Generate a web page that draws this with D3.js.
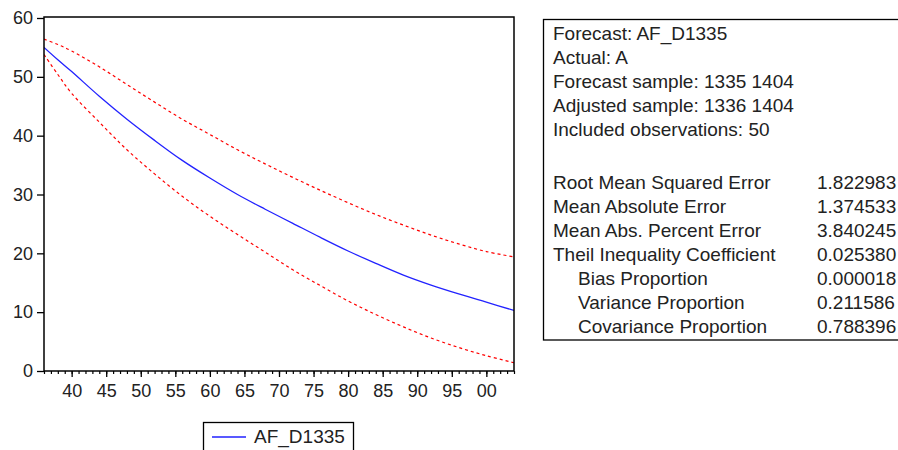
<!DOCTYPE html>
<html>
<head>
<meta charset="utf-8">
<script src="https://cdn.jsdelivr.net/npm/d3@7/dist/d3.min.js"></script>
<style>
  html, body { margin: 0; padding: 0; background: #fff; }
  svg { display: block; }
  text { font-family: Arial, "Liberation Sans", sans-serif; fill: #222; }
</style>
</head>
<body>
<svg id="chart" width="898" height="450"></svg>
<script>
// ---- data ----
const years    = [1336, 1338, 1340, 1344, 1348, 1352, 1356, 1360, 1364, 1368, 1372, 1376, 1380, 1384, 1388, 1392, 1396, 1400, 1404];
const forecast = [55.0, 52.9, 50.9, 46.7, 42.8, 39.2, 35.8, 32.8, 30.0, 27.5, 25.1, 22.7, 20.4, 18.3, 16.3, 14.6, 13.1, 11.7, 10.3];
const upper    = [56.4, 55.5, 54.4, 51.7, 48.7, 45.7, 42.8, 40.2, 37.6, 35.2, 32.9, 30.7, 28.6, 26.6, 24.8, 23.1, 21.6, 20.3, 19.4];
const lower    = [53.8, 50.4, 47.2, 42.3, 37.6, 33.5, 29.7, 26.3, 23.2, 20.2, 17.2, 14.5, 11.9, 9.6, 7.5, 5.6, 4.0, 2.6, 1.4];
const yTicks   = [0, 10, 20, 30, 40, 50, 60];
const xMajor   = [1340, 1345, 1350, 1355, 1360, 1365, 1370, 1375, 1380, 1385, 1390, 1395, 1400];
const seriesName = "AF_D1335";
const statsHeader = ["Forecast: AF_D1335", "Actual: A", "Forecast sample: 1335 1404", "Adjusted sample: 1336 1404", "Included observations: 50"];
const statLabels = ["Root Mean Squared Error", "Mean Absolute Error", "Mean Abs. Percent Error", "Theil Inequality Coefficient", "Bias Proportion", "Variance Proportion", "Covariance Proportion"];
const statValues = ["1.822983", "1.374533", "3.840245", "0.025380", "0.000018", "0.211586", "0.788396"];
const statIndent = [false, false, false, false, true, true, true];

// ---- layout ----
const svg = d3.select("#chart");
const plot = { left: 44, right: 514, top: 17, bottom: 371 };
const x = d3.scaleLinear().domain([1336, 1404]).range([plot.left, plot.right]);
const y = d3.scaleLinear().domain([0, 60]).range([371, 18]);
const FONT = "Arial, 'Liberation Sans', sans-serif";

// frame background
svg.append("rect")
  .attr("x", plot.left).attr("y", plot.top)
  .attr("width", plot.right - plot.left).attr("height", plot.bottom - plot.top)
  .attr("fill", "#fff");

// y axis
const yAxis = d3.axisLeft(y).tickValues(yTicks).tickSize(7).tickPadding(4);
const gy = svg.append("g").attr("transform", `translate(${plot.left},0)`).call(yAxis);
gy.select(".domain").remove();
gy.selectAll("line").attr("stroke", "#000").attr("stroke-width", 1.3);
gy.selectAll("text").style("font-size", "18px").attr("fill", "#222").style("font-family", FONT);

// x axis minor ticks
const minorVals = d3.range(1336, 1405);
const gxm = svg.append("g").attr("transform", `translate(0,${plot.bottom})`)
  .call(d3.axisBottom(x).tickValues(minorVals).tickSize(3).tickFormat(""));
gxm.select(".domain").remove();
gxm.selectAll("line").attr("stroke", "#000").attr("stroke-width", 1.2);

// x axis major ticks + labels
const gx = svg.append("g").attr("transform", `translate(0,${plot.bottom})`)
  .call(d3.axisBottom(x).tickValues(xMajor).tickSize(6).tickPadding(7)
    .tickFormat(d => String(d % 100).padStart(2, "0")));
gx.select(".domain").remove();
gx.selectAll("line").attr("stroke", "#000").attr("stroke-width", 1.3);
gx.selectAll("text").style("font-size", "18px").attr("fill", "#222").style("font-family", FONT);

// lines
const mk = arr => d3.line().x((d, i) => x(years[i])).y(d => y(d)).curve(d3.curveCatmullRom.alpha(0.5))(arr);
svg.append("clipPath").attr("id", "clip").append("rect")
  .attr("x", plot.left).attr("y", plot.top).attr("width", plot.right - plot.left).attr("height", plot.bottom - plot.top);
const gl = svg.append("g").attr("clip-path", "url(#clip)");
gl.append("path").attr("d", mk(upper)).attr("fill", "none").attr("stroke", "#ff0000")
  .attr("stroke-width", 1.2).attr("stroke-dasharray", "3,3");
gl.append("path").attr("d", mk(lower)).attr("fill", "none").attr("stroke", "#ff0000")
  .attr("stroke-width", 1.2).attr("stroke-dasharray", "3,3");
gl.append("path").attr("d", mk(forecast)).attr("fill", "none").attr("stroke", "#2222ff")
  .attr("stroke-width", 1.3);

// frame stroke on top
svg.append("rect")
  .attr("x", plot.left).attr("y", plot.top)
  .attr("width", plot.right - plot.left).attr("height", plot.bottom - plot.top)
  .attr("fill", "none").attr("stroke", "#000").attr("stroke-width", 1.5);

// legend
const lg = svg.append("g");
lg.append("rect").attr("x", 203.5).attr("y", 422.5).attr("width", 150).attr("height", 40)
  .attr("fill", "#fff").attr("stroke", "#000").attr("stroke-width", 1.3);
lg.append("line").attr("x1", 212).attr("x2", 246).attr("y1", 437).attr("y2", 437)
  .attr("stroke", "#2222ff").attr("stroke-width", 1.3);
lg.append("text").attr("x", 254).attr("y", 443).style("font-size", "19px").text(seriesName);

// stats box
const sb = svg.append("g");
sb.append("rect").attr("x", 543.5).attr("y", 19.5).attr("width", 400).attr("height", 320.5)
  .attr("fill", "#fff").attr("stroke", "#000").attr("stroke-width", 1.3);
statsHeader.forEach((t, i) => {
  sb.append("text").attr("x", 553).attr("y", 40 + i * 24).style("font-size", "19px").text(t);
});
statLabels.forEach((t, i) => {
  sb.append("text").attr("x", statIndent[i] ? 578 : 553).attr("y", 189 + i * 24)
    .style("font-size", "19px").text(t);
  sb.append("text").attr("x", 817).attr("y", 189 + i * 24)
    .style("font-size", "19px").text(statValues[i]);
});
</script>
</body>
</html>
